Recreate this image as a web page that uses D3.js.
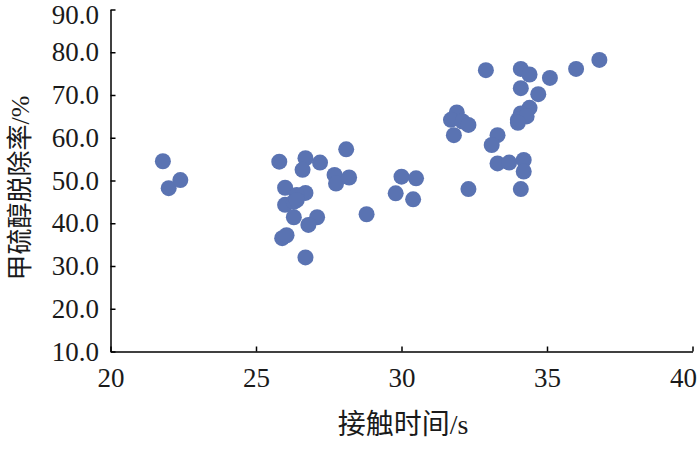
<!DOCTYPE html>
<html><head><meta charset="utf-8">
<script src="https://cdn.jsdelivr.net/npm/d3@7"></script>
<style>body{margin:0;background:#fff}svg{display:block}</style>
</head><body><svg id="c" width="700" height="454"></svg>
<script>
const xTicks = [20, 25, 30, 35, 40];
const yTicks = [10, 20, 30, 40, 50, 60, 70, 80, 90];
const xLabel = "接触时间/s";
const yLabel = "甲硫醇脱除率/%";
const contactTime = [21.8,22.0,22.4,25.8,26.7,27.2,26.6,28.1,27.7,27.75,28.2,26.0,26.7,26.4,26.0,26.3,26.3,27.1,26.8,25.9,26.05,26.7,28.8,30.0,30.5,29.8,30.4,31.9,31.7,32.1,32.3,31.8,33.3,33.1,33.3,33.7,34.2,34.2,32.3,34.1,32.9,34.1,34.4,35.1,36.0,36.8,34.1,34.7,34.4,34.1,34.0,34.3,34.0,26.4];
const removalRate = [54.5,48.2,50.1,54.4,55.2,54.2,52.5,57.3,51.3,49.3,50.7,48.3,47.1,46.6,44.3,45.0,41.4,41.4,39.6,36.5,37.2,32.0,42.1,50.9,50.5,47.0,45.6,65.9,64.2,63.8,63.0,60.6,60.6,58.3,54.0,54.2,54.8,52.1,48.0,48.0,75.8,76.1,74.8,74.0,76.1,78.2,71.6,70.2,67.0,65.7,64.2,65.0,63.5,45.4];

const svg = d3.select("#c");
const x = d3.scaleLinear().domain([20,40]).range([110.5,692.5]);
const y = d3.scaleLinear().domain([10,90]).range([351.5,9.5]);
const serif = "'Liberation Serif','Times New Roman',serif";
const cjk = "'Noto Sans CJK SC',sans-serif";

const gx = svg.append("g").attr("transform","translate(0,351.5)")
  .call(d3.axisBottom(x).tickValues(xTicks).tickSize(-5).tickSizeOuter(0).tickPadding(16).tickFormat(d3.format("d")));
const gy = svg.append("g").attr("transform","translate(110.5,0)")
  .call(d3.axisLeft(y).tickValues(yTicks).tickSize(-5).tickSizeOuter(0).tickPadding(11.5).tickFormat(d3.format(".1f")));
[gx,gy].forEach(g=>{
  g.select(".domain").attr("stroke","#000").attr("stroke-width",1.5);
  g.selectAll(".tick line").attr("stroke","#000").attr("stroke-width",1.5);
  g.selectAll(".tick text").attr("fill","#1a1a1a").style("font-family",serif).style("font-size","27px");
});
gx.selectAll(".tick text").filter(d=>d===40).attr("text-anchor","end").attr("dx","4");
gy.selectAll(".tick text").filter(d=>d===90).attr("dy","0.5em");

svg.append("g").selectAll("circle").data(contactTime.map((t,i)=>[t,removalRate[i]]))
  .join("circle").attr("cx",d=>x(d[0])).attr("cy",d=>y(d[1])).attr("r",8)
  .attr("fill","#5a73b2");

function title(sel, str){
  const i = str.indexOf("/");
  sel.append("tspan").style("font-family",cjk).text(str.slice(0,i));
  sel.append("tspan").style("font-family",serif).text(str.slice(i));
}
const tx = svg.append("text").attr("x",403).attr("y",434).attr("text-anchor","middle")
  .style("font-size","28px").attr("fill","#1a1a1a");
title(tx, xLabel);
const ty = svg.append("text").attr("transform","translate(29,188) rotate(-90)").attr("text-anchor","middle")
  .style("font-size","26px").attr("fill","#1a1a1a");
title(ty, yLabel);
</script></body></html>
